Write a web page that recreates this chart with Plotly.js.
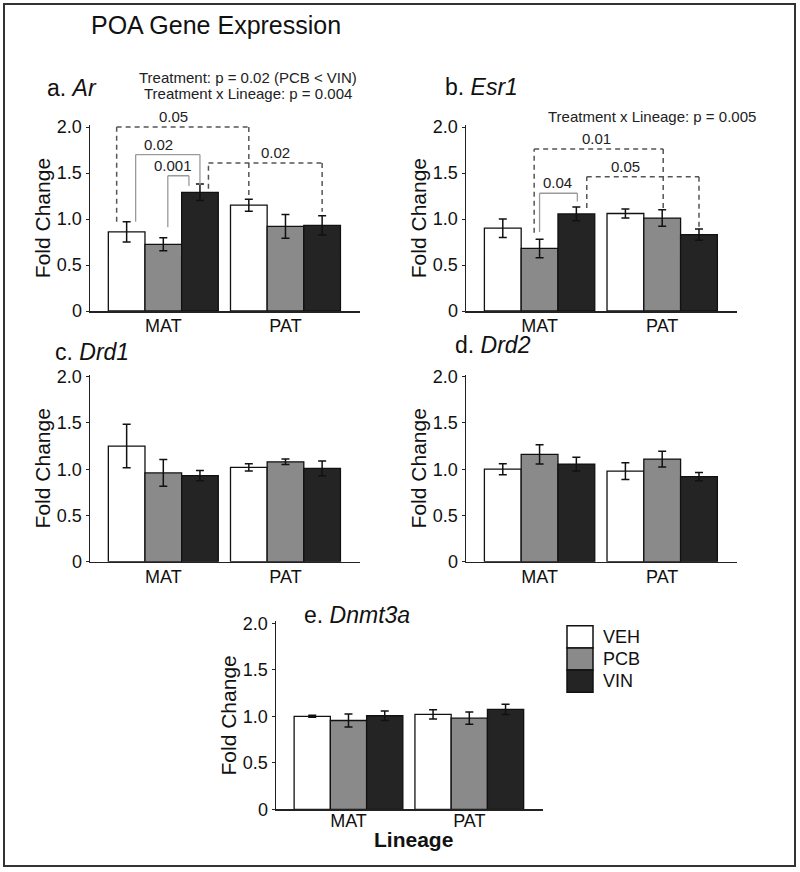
<!DOCTYPE html>
<html><head><meta charset="utf-8">
<script src="https://cdn.plot.ly/plotly-3.0.1.min.js"></script>
<style>html,body{margin:0;padding:0;background:#fff}</style>
</head><body><div id="chart" style="width:800px;height:872px"></div>
<script>
// ---------------- DATA ----------------
const lineages = ['MAT', 'PAT'];
const treatments = ['VEH', 'PCB', 'VIN'];
const genes = ['Ar', 'Esr1', 'Drd1', 'Drd2', 'Dnmt3a'];
const panelLetters = ['a', 'b', 'c', 'd', 'e'];
// rows: VEH, PCB, VIN ; columns: MAT, PAT
const arMeans = [[0.86, 1.15], [0.725, 0.92], [1.29, 0.93]];
const arErrs = [[0.11, 0.065], [0.07, 0.13], [0.09, 0.105]];
const esr1Means = [[0.90, 1.06], [0.68, 1.01], [1.055, 0.83]];
const esr1Errs = [[0.10, 0.05], [0.10, 0.09], [0.075, 0.06]];
const drd1Means = [[1.25, 1.02], [0.96, 1.08], [0.93, 1.01]];
const drd1Errs = [[0.235, 0.04], [0.145, 0.03], [0.055, 0.08]];
const drd2Means = [[1.00, 0.98], [1.16, 1.11], [1.055, 0.92]];
const drd2Errs = [[0.06, 0.09], [0.105, 0.085], [0.075, 0.045]];
const dnmt3aMeans = [[1.00, 1.02], [0.955, 0.98], [1.006, 1.075]];
const dnmt3aErrs = [[0.01, 0.05], [0.07, 0.065], [0.05, 0.055]];
const yTickVals = [0, 0.5, 1, 1.5, 2];
const yTickText = ['0', '0.5', '1.0', '1.5', '2.0'];
const xAxisTitle = 'Lineage';
const yAxisTitle = 'Fold Change';
// statistics text
const arStats = ['Treatment: p = 0.02 (PCB &lt; VIN)', 'Treatment x Lineage: p = 0.004'];
const esr1Stats = ['Treatment x Lineage: p = 0.005'];
// pairwise comparison brackets: [lineage, treatment] endpoints, bracket level and leg ends (fold change)
const arBrackets = [
  {p: '0.05',  from: [0, 0], to: [1, 0], level: 2.00, legFrom: 0.97, legTo: 1.22, dashed: true},
  {p: '0.02',  from: [0, 0], to: [0, 2], level: 1.70, legFrom: 0.97, legTo: 1.37, dashed: false},
  {p: '0.001', from: [0, 1], to: [0, 2], level: 1.47, legFrom: 0.91, legTo: 1.36, dashed: false},
  {p: '0.02',  from: [0, 2], to: [1, 2], level: 1.61, legFrom: 1.33, legTo: 1.08, dashed: true}
];
const esr1Brackets = [
  {p: '0.01', from: [0, 1], to: [1, 1], level: 1.76, legFrom: 0.85, legTo: 1.12, dashed: true},
  {p: '0.05', from: [0, 2], to: [1, 2], level: 1.46, legFrom: 1.12, legTo: 0.90, dashed: true},
  {p: '0.04', from: [0, 1], to: [0, 2], level: 1.28, legFrom: 0.86, legTo: 1.19, dashed: false}
];

const allMeans = [arMeans, esr1Means, drd1Means, drd2Means, dnmt3aMeans];
const allErrs = [arErrs, esr1Errs, drd1Errs, drd2Errs, dnmt3aErrs];
const allBrackets = [arBrackets, esr1Brackets, [], [], []];

// ---------------- LAYOUT / STYLE ----------------
const W = 800, H = 872;
const FONT = 'Liberation Sans, Arial, Helvetica, sans-serif';
const fillColors = ['#ffffff', '#8a8a8a', '#242424'];
const px = x => x / W;
const py = y => 1 - y / H;
// panel geometry in pixels: left, right, y of zero, px per unit
const geo = [
  {l: 90,  r: 360, y0: 311,   s: 92,   label: [45, 88],  tls: -2},
  {l: 466, r: 737, y0: 311,   s: 92,   label: [443, 87], tls: -2},
  {l: 90,  r: 360, y0: 561.7, s: 92.5, label: [53, 352], tls: -2},
  {l: 466, r: 737, y0: 561.7, s: 92.5, label: [453, 345], tls: -2},
  {l: 276, r: 543, y0: 809.3, s: 93,   label: [302, 615], tls: -5}
];
const YMAX = 2.02;
const XR = [-0.6, 1.61];
// pixel nudges of bracket ends / labels
const bracketNudge = [
  [{a: -10, b: 0, t: -9}, {a: 9, b: 0, t: -9.4}, {a: 4.5, b: -11, t: -5}, {a: 8.5, b: 0, t: 10}],
  [{a: -5.4, b: 1, t: -2}, {a: 10.4, b: 0, t: -17}, {a: 0, b: 1, t: -1}]
];

const data = [];
const layout = {
  width: W, height: H,
  margin: {l: 0, r: 0, t: 0, b: 0},
  paper_bgcolor: '#fff', plot_bgcolor: '#fff',
  font: {family: FONT, color: '#111'},
  showlegend: false,
  bargap: 0.1, bargroupgap: 0,
  barmode: 'group',
  shapes: [], annotations: []
};

geo.forEach((g, i) => {
  const n = i === 0 ? '' : String(i + 1);
  const top = g.y0 - YMAX * g.s;
  layout['xaxis' + n] = {
    type: 'category', domain: [px(g.l), px(g.r)], anchor: 'y' + n, range: XR,
    showline: true, linecolor: '#222', linewidth: 1.5, ticks: '', showgrid: false, zeroline: false,
    tickfont: {size: 18, family: FONT, color: '#111'}, fixedrange: true, ticklabelstandoff: g.tls
  };
  layout['yaxis' + n] = {
    domain: [py(g.y0), py(top)], anchor: 'x' + n, range: [0, YMAX],
    showline: true, linecolor: '#222', linewidth: 1.5, ticks: 'outside', ticklen: 3, tickcolor: '#222',
    tickvals: yTickVals, ticktext: yTickText, showgrid: false, zeroline: false,
    tickfont: {size: 18, family: FONT, color: '#111'}, fixedrange: true,
    title: {text: yAxisTitle, font: {size: 21, family: FONT, color: '#111'}, standoff: 0}
  };
  treatments.forEach((t, k) => {
    data.push({
      type: 'bar', name: t, x: lineages, y: allMeans[i][k],
      xaxis: 'x' + n, yaxis: 'y' + n,
      marker: {color: fillColors[k], line: {color: '#111', width: 1.3}},
      error_y: {type: 'data', array: allErrs[i][k], color: '#111', thickness: 1.5, width: 4},
      hoverinfo: 'skip'
    });
  });
  // panel label
  layout.annotations.push({
    xref: 'paper', yref: 'paper', x: px(g.label[0]), y: py(g.label[1]),
    xanchor: 'left', yanchor: 'middle', showarrow: false,
    text: panelLetters[i] + '. <i>' + genes[i] + '</i>',
    font: {size: 23, family: FONT, color: '#111'}
  });
  // brackets
  const unit = (g.r - g.l) / (XR[1] - XR[0]);
  allBrackets[i].forEach((b, j) => {
    const nd = bracketNudge[i][j];
    const xa = b.from[0] + (b.from[1] - 1) * 0.3 + nd.a / unit;
    const xb = b.to[0] + (b.to[1] - 1) * 0.3 + nd.b / unit;
    const line = b.dashed ? {color: '#555', width: 1.5, dash: '5px,4px'} : {color: '#9a9a9a', width: 1.3};
    const segs = [[xa, b.legFrom, xa, b.level], [xa, b.level, xb, b.level], [xb, b.level, xb, b.legTo]];
    segs.forEach(s => layout.shapes.push({
      type: 'line', xref: 'x' + n, yref: 'y' + n, x0: s[0], y0: s[1], x1: s[2], y1: s[3], line: line
    }));
    layout.annotations.push({
      xref: 'x' + n, yref: 'y' + n, x: (xa + xb) / 2 + nd.t / unit, y: b.level,
      xanchor: 'center', yanchor: 'bottom', showarrow: false, text: b.p,
      font: {size: 15, family: FONT, color: '#222'}
    });
  });
});

// x axis title of bottom panel
layout.annotations.push({
  xref: 'paper', yref: 'paper', x: px(413), y: py(839), xanchor: 'center', yanchor: 'middle',
  showarrow: false, text: '<b>' + xAxisTitle + '</b>', font: {size: 21, family: FONT, color: '#111'}
});

// statistics text
arStats.forEach((s, k) => layout.annotations.push({
  xref: 'paper', yref: 'paper', x: px(248), y: py(77 + k * 16.5), xanchor: 'center', yanchor: 'middle',
  showarrow: false, text: s, font: {size: 15, family: FONT, color: '#222'}
}));
esr1Stats.forEach((s, k) => layout.annotations.push({
  xref: 'paper', yref: 'paper', x: px(652), y: py(117 + k * 16.5), xanchor: 'center', yanchor: 'middle',
  showarrow: false, text: s, font: {size: 15, family: FONT, color: '#222'}
}));

// figure title
layout.annotations.push({
  xref: 'paper', yref: 'paper', x: px(89), y: py(25), xanchor: 'left', yanchor: 'middle',
  showarrow: false, text: 'POA Gene Expression', font: {size: 25, family: FONT, color: '#111'}
});

// legend
const legX0 = 567, legX1 = 593, legY0 = 625.7, legH = 22.2;
treatments.forEach((t, k) => {
  layout.shapes.push({
    type: 'rect', xref: 'paper', yref: 'paper',
    x0: px(legX0), x1: px(legX1), y0: py(legY0 + k * legH), y1: py(legY0 + (k + 1) * legH),
    fillcolor: fillColors[k], line: {color: '#111', width: 1.5}
  });
  layout.annotations.push({
    xref: 'paper', yref: 'paper', x: px(601), y: py(legY0 + (k + 0.5) * legH),
    xanchor: 'left', yanchor: 'middle', showarrow: false, text: t,
    font: {size: 18, family: FONT, color: '#111'}
  });
});

// outer frame
layout.shapes.push({
  type: 'rect', xref: 'paper', yref: 'paper', x0: px(4), x1: px(795), y0: py(866), y1: py(4),
  line: {color: '#333', width: 2}, fillcolor: 'rgba(0,0,0,0)', layer: 'below'
});

Plotly.newPlot('chart', data, layout, {staticPlot: true, displayModeBar: false});
</script>
</body></html>
